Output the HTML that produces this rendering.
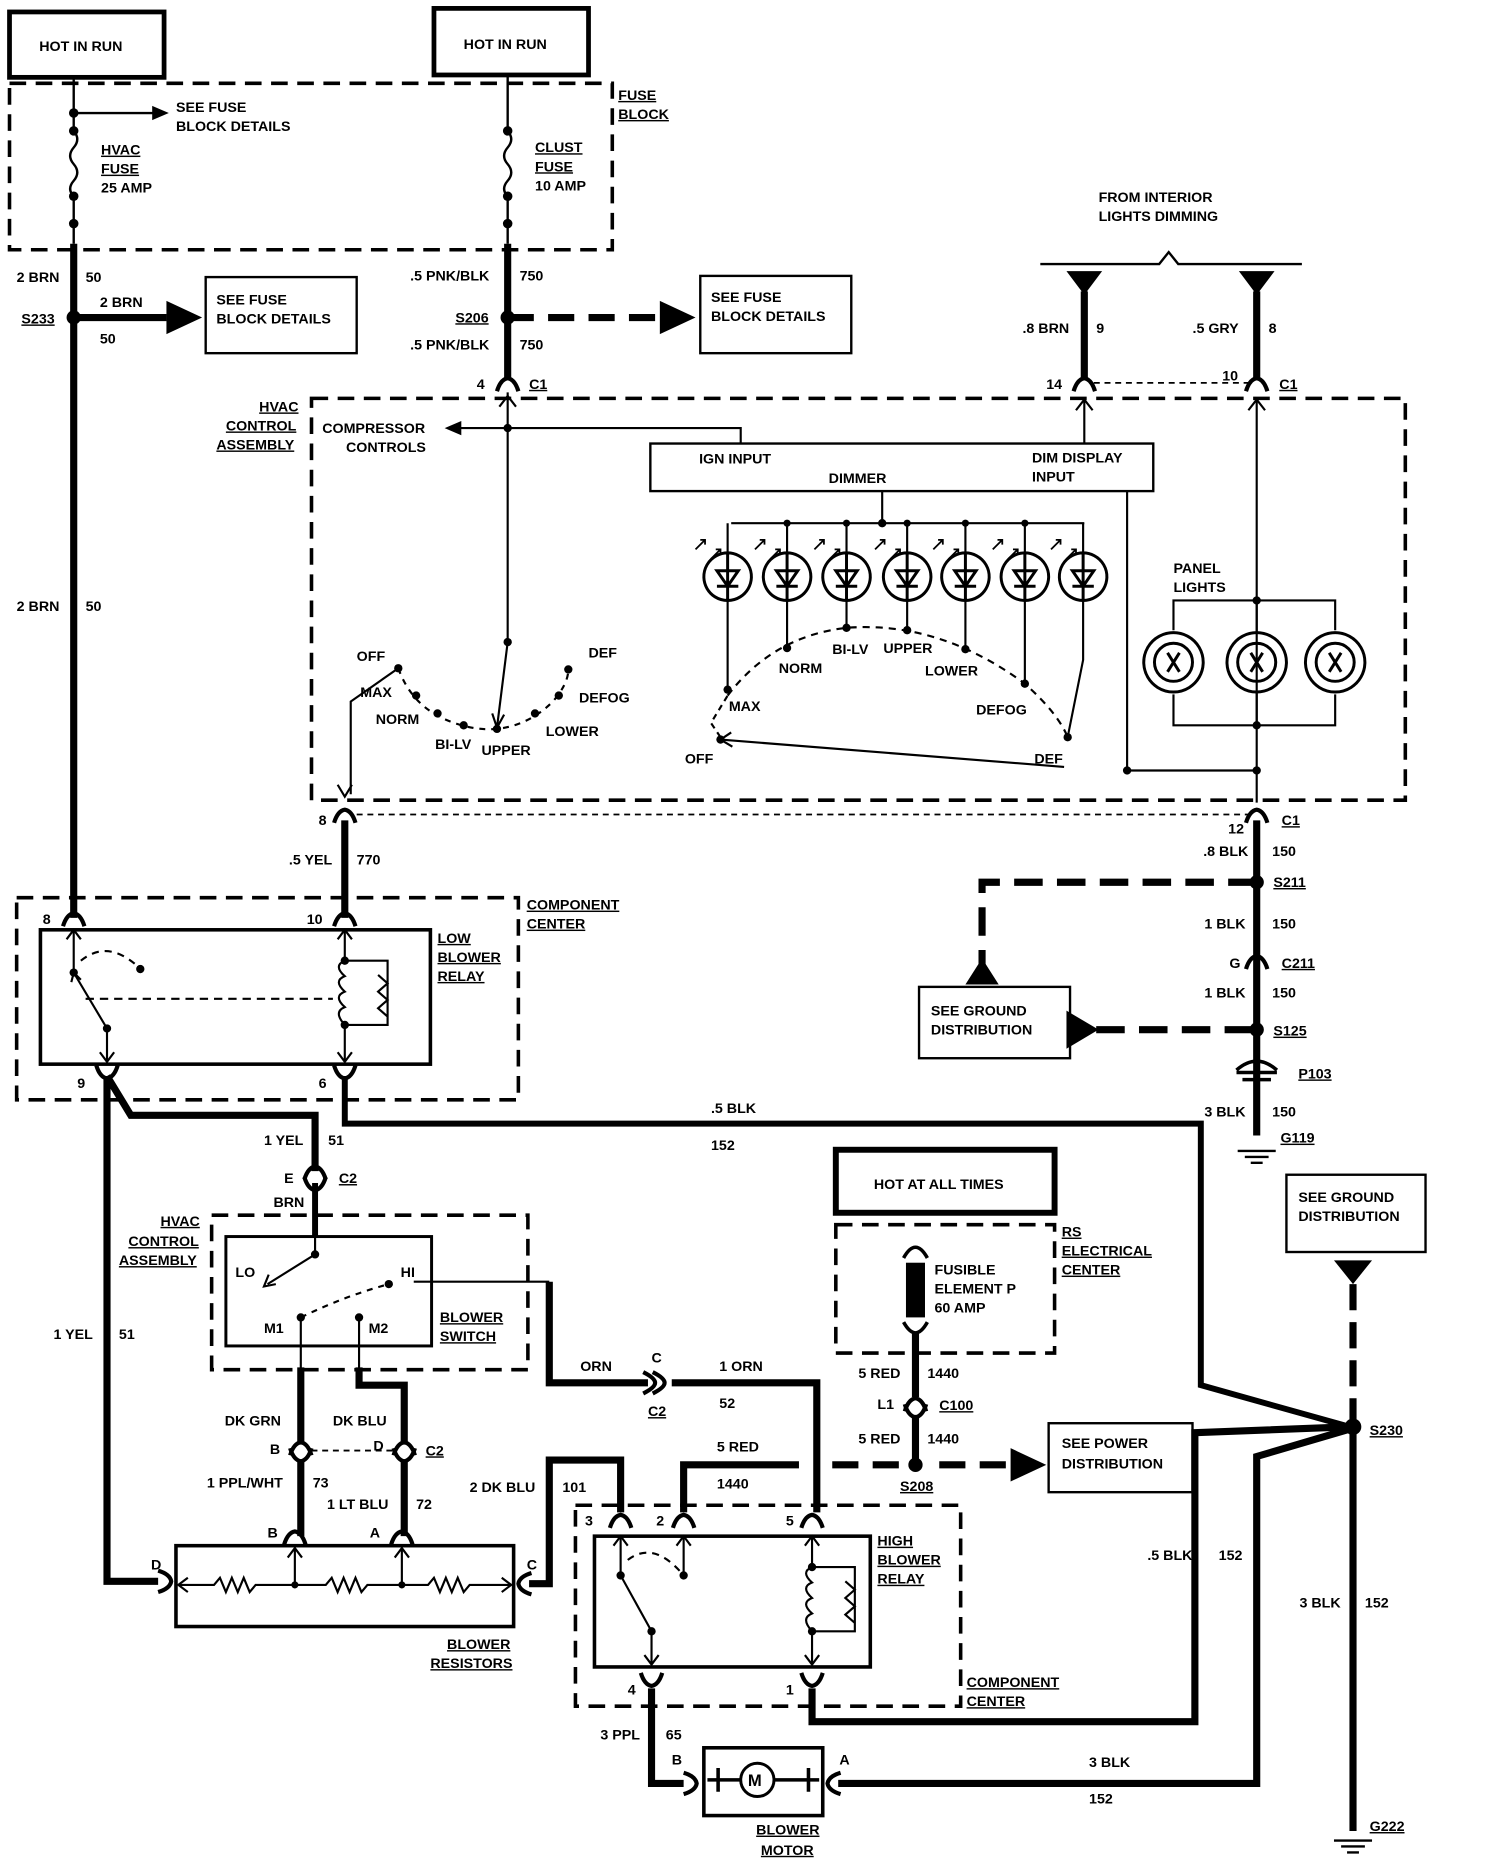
<!DOCTYPE html>
<html><head><meta charset="utf-8"><style>
html,body{margin:0;padding:0;background:#fff;}
svg{display:block;}
text{font-family:"Liberation Sans",sans-serif;font-weight:bold;font-size:12px;fill:#000;}
</style></head><body>
<svg width="1504" height="1862" viewBox="0 0 1265 1566" xmlns="http://www.w3.org/2000/svg">
<defs>
<path id="ct" d="M-9,7 Q-6,-3 0,-4 Q6,-3 9,7" fill="none" stroke="#000" stroke-width="3.5"/>
<path id="cb" d="M-9,-7 Q-6,3 0,4 Q6,3 9,-7" fill="none" stroke="#000" stroke-width="3.5"/>
<path id="cs" d="M-6,-9 Q4,-4 4,0 Q4,4 -6,9 M-14,-9 Q-4,-4 -4,0 Q-4,4 -14,9" fill="none" stroke="#000" stroke-width="3.5"/>
<path id="led" d="M0,-20 A20,20 0 1,0 0.01,-20 M-9,-5 L9,-5 L0,8 Z M-9,8 L9,8 M0,-20 L0,20" fill="none" stroke="#000" stroke-width="2.5"/>
<path id="lamp" d="M0,-25 A25,25 0 1,0 0.01,-25 M0,0 m-16,0 a16,16 0 1,0 32,0 a16,16 0 1,0 -32,0 M-5,-8 L5,8 M5,-8 L-5,8" fill="none" stroke="#000" stroke-width="2.5"/>
<path id="gnd" d="M-16,0 L16,0 M-10,5 L10,5 M-5,10 L5,10" stroke="#000" stroke-width="2"/>
</defs>
<g fill="none" stroke="#000">
<rect x="8" y="10" width="130" height="55" stroke-width="4"/>
<rect x="365" y="7" width="130" height="56" stroke-width="4"/>
<rect x="8" y="70" width="507" height="140" stroke-width="3" stroke-dasharray="14,8"/>
<path d="M62,65 V110 M62,165 V205" stroke-width="2"/>
<path d="M62,110 q6,7 0,14 q-6,7 0,14 q6,7 0,14 q-6,7 0,13" stroke-width="2"/>
<path d="M62,95 H130" stroke-width="2"/>
<path d="M62,205 V772" stroke-width="6"/>
<path d="M427,63 V110 M427,165 V205" stroke-width="2"/>
<path d="M427,110 q6,7 0,14 q-6,7 0,14 q6,7 0,14 q-6,7 0,13" stroke-width="2"/>
<path d="M427,205 V318" stroke-width="6"/>
<path d="M62,267 H140" stroke-width="6"/>
<path d="M427,267 H555" stroke-width="6" stroke-dasharray="22,12"/>
<rect x="173" y="233" width="127" height="64" stroke-width="2"/>
<rect x="589" y="232" width="127" height="65" stroke-width="2"/>
<path d="M875,222 H975 L983,212 L991,222 H1095" stroke-width="2"/>
<path d="M912,245 V318 M1057,245 V318" stroke-width="6"/>
<path d="M920,322 H1050" stroke-width="1.5" stroke-dasharray="5,4"/>
<rect x="262" y="335" width="920" height="338" stroke-width="3" stroke-dasharray="14,8"/>
<path d="M427,330 V540 M427,360 H380 M427,360 H623 V373 M912,335 V373 M1057,335 V675" stroke-width="1.8"/>
<path d="M420,342 L427,333 L434,342 M905,345 L912,336 L919,345 M1050,345 L1057,336 L1064,345" stroke-width="1.8"/>
<rect x="547" y="373" width="423" height="40" stroke-width="2"/>
<path d="M742,413 V440 M615,440 H912" stroke-width="1.8"/>
<path d="M612,440 V465 M662,440 V465 M712,440 V465 M763,440 V465 M812,440 V465 M862,440 V465 M911,440 V465" stroke-width="1.8"/>
<path d="M612,505 V580 M662,505 V545 M712,505 V528 M763,505 V530 M812,505 V546 M862,505 V575 M911,505 V555 L898,620" stroke-width="1.8"/>
<path d="M612,585 Q650,535 712,528 Q790,522 862,575 Q890,600 898,620" stroke-width="1.8" stroke-dasharray="6,5"/>
<path d="M606,620 L598,608 L612,585" stroke-width="1.8" stroke-dasharray="5,4"/>
<path d="M606,622 L895,645" stroke-width="1.8"/>
<path d="M615,616 L606,622 L616,628" stroke-width="1.8"/>
<path d="M948,413 V648 H1057" stroke-width="1.8"/>
<path d="M987,530 V505 H1123 V530 M987,584 V610 H1123 V584 M1057,505 V532 M1057,582 V610" stroke-width="1.8"/>
<path d="M335,562 Q345,590 370,603 Q395,615 418,613 Q445,610 465,590 Q478,575 478,563" stroke-width="1.8" stroke-dasharray="5,5"/>
<path d="M418,612 L427,540 M335,562 L295,590 V668" stroke-width="1.8"/>
<path d="M414,600 L418,612 L424,601 M284,660 L290,670 L296,660" stroke-width="1.8"/>
<path d="M300,685 H1050" stroke-width="1.5" stroke-dasharray="5,4"/>
<path d="M290,690 V772" stroke-width="6"/>
<path d="M1057,690 V955" stroke-width="6"/>
<path d="M1057,742 H826 V812" stroke-width="6" stroke-dasharray="24,12"/>
<rect x="773" y="830" width="127" height="60" stroke-width="2"/>
<path d="M922,866 H1057" stroke-width="6" stroke-dasharray="24,12"/>
<rect x="14" y="755" width="422" height="170" stroke-width="3" stroke-dasharray="14,8"/>
<rect x="34" y="782" width="328" height="113" stroke-width="3"/>
<path d="M62,782 V818 L90,865 V893 M290,782 V808 M290,862 V893" stroke-width="1.8"/>
<path d="M56,790 L62,782 L68,790 M84,885 L90,893 L96,885 M284,790 L290,782 L296,790 M284,885 L290,893 L296,885 M60,826 L62,818 L68,824" stroke-width="1.8"/>
<path d="M68,808 Q90,790 115,812" stroke-width="1.8" stroke-dasharray="6,5"/>
<path d="M72,840 H280" stroke-width="1.8" stroke-dasharray="7,5"/>
<path d="M290,808 h36 v54 h-36 M290,808 q-10,4 0,13 q-10,4 0,13 q-10,4 0,13 q-10,4 0,15 M318,820 l8,7 l-8,7 l8,7 l-8,7 l8,7" stroke-width="1.8"/>
<path d="M290,905 V945 H1010 V1165 L1135,1200" stroke-width="5"/>
<path d="M90,905 L110,938 H265 V985 M90,905 V1330 H133" stroke-width="6"/>
<path d="M265,995 V1040" stroke-width="5"/>
<rect x="178" y="1022" width="266" height="130" stroke-width="3" stroke-dasharray="14,8"/>
<rect x="190" y="1040" width="173" height="92" stroke-width="2.5"/>
<path d="M265,1040 V1055 L225,1080 M253,1108 V1155 M302,1108 V1155 M348,1078 H462" stroke-width="1.8"/>
<path d="M226,1072 L222,1082 L232,1080" stroke-width="1.8"/>
<path d="M253,1108 Q290,1090 327,1080" stroke-width="1.8" stroke-dasharray="5,5"/>
<path d="M462,1078 V1163 H545 M565,1163 H687 V1272" stroke-width="6"/>
<path d="M253,1150 V1215 M302,1150 V1165 H340 V1215" stroke-width="6"/>
<path d="M262,1220 H333" stroke-width="1.5" stroke-dasharray="5,4"/>
<path d="M253,1228 V1292 M340,1228 V1292" stroke-width="6"/>
<rect x="148" y="1300" width="284" height="68" stroke-width="3"/>
<path d="M150,1333 H180 l5,-6 l5,12 l5,-12 l5,12 l5,-12 l5,12 l5,-6 H274 l5,-6 l5,12 l5,-12 l5,12 l5,-12 l5,12 l5,-6 H360 l5,-6 l5,12 l5,-12 l5,12 l5,-12 l5,12 l5,-6 H430 M248,1302 V1333 M338,1302 V1333" stroke-width="1.8"/>
<path d="M158,1327 L150,1333 L158,1339 M422,1327 L430,1333 L422,1339 M242,1310 L248,1302 L254,1310 M332,1310 L338,1302 L344,1310" stroke-width="1.8"/>
<path d="M445,1332 H462 V1228 H522 V1272" stroke-width="6"/>
<rect x="484" y="1266" width="324" height="169" stroke-width="3" stroke-dasharray="14,8"/>
<rect x="500" y="1292" width="232" height="110" stroke-width="3"/>
<path d="M522,1292 V1325 L548,1372 V1400 M575,1292 V1325 M683,1292 V1318 M683,1372 V1400" stroke-width="1.8"/>
<path d="M516,1300 L522,1292 L528,1300 M569,1300 L575,1292 L581,1300 M677,1300 L683,1292 L689,1300 M542,1392 L548,1400 L554,1392 M677,1392 L683,1400 L689,1392" stroke-width="1.8"/>
<path d="M528,1312 Q550,1295 575,1325" stroke-width="1.8" stroke-dasharray="6,5"/>
<path d="M683,1318 h36 v54 h-36 M683,1318 q-10,4 0,13 q-10,4 0,13 q-10,4 0,13 q-10,4 0,15 M711,1330 l8,7 l-8,7 l8,7 l-8,7 l8,7" stroke-width="1.8"/>
<path d="M575,1272 V1232 H672" stroke-width="6"/>
<path d="M700,1232 H770" stroke-width="6" stroke-dasharray="22,12"/>
<path d="M790,1232 H850" stroke-width="6" stroke-dasharray="22,12"/>
<rect x="882" y="1197" width="121" height="58" stroke-width="2"/>
<rect x="703" y="967" width="184" height="53" stroke-width="5"/>
<rect x="703" y="1030" width="184" height="108" stroke-width="3" stroke-dasharray="14,8"/>
<path d="M770,1120 V1175 M770,1190 V1232" stroke-width="6"/>
<path d="M760,1058 Q770,1040 780,1058 M760,1112 Q770,1130 780,1112" stroke-width="3"/>
<path d="M548,1420 V1500 H575 M705,1500 H1057 V1225 L1135,1202 M683,1420 V1448 H1005 V1205 L1135,1200" stroke-width="6"/>
<rect x="592" y="1470" width="100" height="57" stroke-width="3"/>
<circle cx="637" cy="1497" r="14" stroke-width="2.5"/>
<path d="M595,1497 H623 M651,1497 H689 M604,1487 V1507 M680,1487 V1507" stroke-width="3"/>
<rect x="1082" y="988" width="117" height="65" stroke-width="2"/>
<path d="M1138,1080 V1195" stroke-width="6" stroke-dasharray="22,10"/>
<path d="M1138,1205 V1540" stroke-width="6"/>
<path d="M1040,900 Q1057,885 1074,900 M1040,902 H1074 M1045,908 H1069" stroke-width="3"/>
</g>
<g fill="#000">
<circle cx="62" cy="95" r="4"/><circle cx="62" cy="110" r="4"/><circle cx="62" cy="165" r="4"/><circle cx="62" cy="188" r="4"/>
<circle cx="427" cy="110" r="4"/><circle cx="427" cy="165" r="4"/><circle cx="427" cy="188" r="4"/>
<circle cx="62" cy="267" r="6"/><circle cx="427" cy="267" r="6"/>
<polygon points="128,89 142,95 128,101"/>
<polygon points="140,253 170,267 140,281"/>
<polygon points="555,253 585,267 555,281"/>
<polygon points="897,228 927,228 912,248"/>
<polygon points="1042,228 1072,228 1057,248"/>
<polygon points="388,354 374,360 388,366"/>
<circle cx="427" cy="360" r="3.5"/><circle cx="742" cy="440" r="3.5"/>
<circle cx="662" cy="440" r="3"/><circle cx="712" cy="440" r="3"/><circle cx="763" cy="440" r="3"/><circle cx="812" cy="440" r="3"/><circle cx="862" cy="440" r="3"/>
<circle cx="612" cy="580" r="3.5"/><circle cx="662" cy="545" r="3.5"/><circle cx="712" cy="528" r="3.5"/><circle cx="763" cy="530" r="3.5"/><circle cx="812" cy="546" r="3.5"/><circle cx="862" cy="575" r="3.5"/><circle cx="898" cy="620" r="3.5"/><circle cx="606" cy="622" r="3.5"/>
<circle cx="948" cy="648" r="3.5"/><circle cx="1057" cy="648" r="3.5"/><circle cx="1057" cy="505" r="3.5"/><circle cx="1057" cy="610" r="3.5"/>
<circle cx="335" cy="562" r="3.5"/><circle cx="350" cy="585" r="3.5"/><circle cx="368" cy="600" r="3.5"/><circle cx="390" cy="610" r="3.5"/><circle cx="418" cy="613" r="3.5"/><circle cx="450" cy="600" r="3.5"/><circle cx="470" cy="585" r="3.5"/><circle cx="478" cy="563" r="3.5"/><circle cx="427" cy="540" r="3.5"/>
<circle cx="1057" cy="742" r="6"/><circle cx="1057" cy="866" r="6"/>
<polygon points="812,828 840,828 826,806"/>
<polygon points="897,850 897,882 924,866"/>
<circle cx="62" cy="818" r="3.5"/><circle cx="90" cy="865" r="3.5"/><circle cx="118" cy="815" r="3.5"/><circle cx="290" cy="808" r="3.5"/><circle cx="290" cy="862" r="3.5"/>
<circle cx="265" cy="1055" r="3.5"/><circle cx="253" cy="1108" r="3.5"/><circle cx="302" cy="1108" r="3.5"/><circle cx="327" cy="1080" r="3.5"/>
<circle cx="248" cy="1333" r="3"/><circle cx="338" cy="1333" r="3"/>
<circle cx="522" cy="1325" r="3.5"/><circle cx="548" cy="1372" r="3.5"/><circle cx="575" cy="1325" r="3.5"/><circle cx="683" cy="1318" r="3.5"/><circle cx="683" cy="1372" r="3.5"/>
<circle cx="770" cy="1232" r="6"/>
<polygon points="850,1218 880,1232 850,1246"/>
<rect x="762" y="1062" width="16" height="46"/>
<polygon points="1122,1060 1154,1060 1138,1080"/>
<circle cx="1138" cy="1200" r="7"/>
</g>
<use href="#ct" x="427" y="322"/><use href="#ct" x="912" y="322"/><use href="#ct" x="1057" y="322"/>
<use href="#ct" x="290" y="685"/><use href="#ct" x="1057" y="685"/>
<use href="#ct" x="1057" y="808"/>
<use href="#ct" x="62" y="772"/><use href="#ct" x="290" y="772"/>
<use href="#cb" x="90" y="903"/><use href="#cb" x="290" y="903"/>
<use href="#ct" x="265" y="985"/><use href="#cb" x="265" y="997"/>
<use href="#ct" x="253" y="1217"/><use href="#ct" x="340" y="1217"/><use href="#cb" x="253" y="1225"/><use href="#cb" x="340" y="1225"/>
<use href="#ct" x="248" y="1292"/><use href="#ct" x="338" y="1292"/>
<use href="#cs" x="555" y="1163"/>
<use href="#ct" x="522" y="1278"/><use href="#ct" x="575" y="1278"/><use href="#ct" x="683" y="1278"/>
<use href="#cb" x="548" y="1414"/><use href="#cb" x="683" y="1414"/>
<use href="#ct" x="770" y="1180"/><use href="#cb" x="770" y="1188"/>
<g transform="translate(140,1330) rotate(90)"><use href="#ct"/></g>
<g transform="translate(440,1332) rotate(-90)"><use href="#ct"/></g>
<g transform="translate(582,1500) rotate(90)"><use href="#ct"/></g>
<g transform="translate(700,1500) rotate(-90)"><use href="#ct"/></g>
<use href="#led" x="612" y="485"/><use href="#led" x="662" y="485"/><use href="#led" x="712" y="485"/><use href="#led" x="763" y="485"/><use href="#led" x="812" y="485"/><use href="#led" x="862" y="485"/><use href="#led" x="911" y="485"/>
<use href="#lamp" x="987" y="557"/><use href="#lamp" x="1057" y="557"/><use href="#lamp" x="1123" y="557"/>
<use href="#gnd" x="1057" y="968"/><use href="#gnd" x="1138" y="1548"/>
<g stroke="#000" stroke-width="1.5" fill="none">
<path d="M585,462 l8,-8 m-4,0 h4 v4 M598,470 l8,-8 m-4,0 h4 v4"/>
<path d="M635,462 l8,-8 m-4,0 h4 v4 M648,470 l8,-8 m-4,0 h4 v4"/>
<path d="M685,462 l8,-8 m-4,0 h4 v4 M698,470 l8,-8 m-4,0 h4 v4"/>
<path d="M736,462 l8,-8 m-4,0 h4 v4 M749,470 l8,-8 m-4,0 h4 v4"/>
<path d="M785,462 l8,-8 m-4,0 h4 v4 M798,470 l8,-8 m-4,0 h4 v4"/>
<path d="M835,462 l8,-8 m-4,0 h4 v4 M848,470 l8,-8 m-4,0 h4 v4"/>
<path d="M884,462 l8,-8 m-4,0 h4 v4 M897,470 l8,-8 m-4,0 h4 v4"/>
</g>
<g>
<text x="33" y="43">HOT IN RUN</text><text x="390" y="41">HOT IN RUN</text>
<text x="520" y="84" text-decoration="underline">FUSE</text><text x="520" y="100" text-decoration="underline">BLOCK</text>
<text x="148" y="94">SEE FUSE</text><text x="148" y="110">BLOCK DETAILS</text>
<text x="85" y="130" text-decoration="underline">HVAC</text><text x="85" y="146" text-decoration="underline">FUSE</text><text x="85" y="162">25 AMP</text>
<text x="450" y="128" text-decoration="underline">CLUST</text><text x="450" y="144" text-decoration="underline">FUSE</text><text x="450" y="160">10 AMP</text>
<text x="14" y="237">2 BRN</text><text x="72" y="237">50</text>
<text x="18" y="272" text-decoration="underline">S233</text>
<text x="84" y="258">2 BRN</text><text x="84" y="289">50</text>
<text x="182" y="256">SEE FUSE</text><text x="182" y="272">BLOCK DETAILS</text>
<text x="345" y="236">.5 PNK/BLK</text><text x="437" y="236">750</text>
<text x="383" y="271" text-decoration="underline">S206</text>
<text x="345" y="294">.5 PNK/BLK</text><text x="437" y="294">750</text>
<text x="598" y="254">SEE FUSE</text><text x="598" y="270">BLOCK DETAILS</text>
<text x="924" y="170">FROM INTERIOR</text><text x="924" y="186">LIGHTS DIMMING</text>
<text x="860" y="280">.8 BRN</text><text x="922" y="280">9</text>
<text x="1003" y="280">.5 GRY</text><text x="1067" y="280">8</text>
<text x="401" y="327">4</text><text x="445" y="327" text-decoration="underline">C1</text>
<text x="880" y="327">14</text><text x="1028" y="320">10</text><text x="1076" y="327" text-decoration="underline">C1</text>
<text x="218" y="346" text-decoration="underline">HVAC</text><text x="190" y="362" text-decoration="underline">CONTROL</text><text x="182" y="378" text-decoration="underline">ASSEMBLY</text>
<text x="271" y="364">COMPRESSOR</text><text x="291" y="380">CONTROLS</text>
<text x="588" y="390">IGN INPUT</text><text x="697" y="406">DIMMER</text><text x="868" y="389">DIM DISPLAY</text><text x="868" y="405">INPUT</text>
<text x="987" y="482">PANEL</text><text x="987" y="498">LIGHTS</text>
<text x="300" y="556">OFF</text><text x="303" y="586">MAX</text><text x="316" y="609">NORM</text><text x="366" y="630">BI-LV</text><text x="405" y="635">UPPER</text><text x="459" y="619">LOWER</text><text x="487" y="591">DEFOG</text><text x="495" y="553">DEF</text>
<text x="613" y="598">MAX</text><text x="655" y="566">NORM</text><text x="700" y="550">BI-LV</text><text x="743" y="549">UPPER</text><text x="778" y="568">LOWER</text><text x="821" y="601">DEFOG</text><text x="870" y="642">DEF</text><text x="576" y="642">OFF</text>
<text x="268" y="694">8</text><text x="1033" y="701">12</text><text x="1078" y="694" text-decoration="underline">C1</text>
<text x="243" y="727">.5 YEL</text><text x="300" y="727">770</text>
<text x="1012" y="720">.8 BLK</text><text x="1070" y="720">150</text>
<text x="1071" y="746" text-decoration="underline">S211</text>
<text x="1013" y="781">1 BLK</text><text x="1070" y="781">150</text>
<text x="1034" y="814">G</text><text x="1078" y="814" text-decoration="underline">C211</text>
<text x="1013" y="839">1 BLK</text><text x="1070" y="839">150</text>
<text x="1071" y="871" text-decoration="underline">S125</text>
<text x="1092" y="907" text-decoration="underline">P103</text>
<text x="1013" y="939">3 BLK</text><text x="1070" y="939">150</text>
<text x="1077" y="961" text-decoration="underline">G119</text>
<text x="783" y="854">SEE GROUND</text><text x="783" y="870">DISTRIBUTION</text>
<text x="443" y="765" text-decoration="underline">COMPONENT</text><text x="443" y="781" text-decoration="underline">CENTER</text>
<text x="36" y="777">8</text><text x="258" y="777">10</text>
<text x="368" y="793" text-decoration="underline">LOW</text><text x="368" y="809" text-decoration="underline">BLOWER</text><text x="368" y="825" text-decoration="underline">RELAY</text>
<text x="65" y="915">9</text><text x="268" y="915">6</text>
<text x="598" y="936">.5 BLK</text><text x="598" y="967">152</text>
<text x="222" y="963">1 YEL</text><text x="276" y="963">51</text>
<text x="239" y="995">E</text><text x="285" y="995" text-decoration="underline">C2</text>
<text x="230" y="1015">BRN</text>
<text x="135" y="1031" text-decoration="underline">HVAC</text><text x="108" y="1048" text-decoration="underline">CONTROL</text><text x="100" y="1064" text-decoration="underline">ASSEMBLY</text>
<text x="198" y="1074">LO</text><text x="337" y="1074">HI</text><text x="222" y="1121">M1</text><text x="310" y="1121">M2</text>
<text x="370" y="1112" text-decoration="underline">BLOWER</text><text x="370" y="1128" text-decoration="underline">SWITCH</text>
<text x="45" y="1126">1 YEL</text><text x="100" y="1126">51</text>
<text x="488" y="1153">ORN</text><text x="548" y="1146">C</text><text x="545" y="1191" text-decoration="underline">C2</text>
<text x="605" y="1153">1 ORN</text><text x="605" y="1184">52</text>
<text x="189" y="1199">DK GRN</text><text x="280" y="1199">DK BLU</text>
<text x="227" y="1223">B</text><text x="314" y="1220">D</text><text x="358" y="1224" text-decoration="underline">C2</text>
<text x="174" y="1251">1 PPL/WHT</text><text x="263" y="1251">73</text>
<text x="275" y="1269">1 LT BLU</text><text x="350" y="1269">72</text>
<text x="225" y="1293">B</text><text x="311" y="1293">A</text>
<text x="127" y="1320">D</text><text x="443" y="1320">C</text>
<text x="376" y="1387" text-decoration="underline">BLOWER</text><text x="362" y="1403" text-decoration="underline">RESISTORS</text>
<text x="395" y="1255">2 DK BLU</text><text x="473" y="1255">101</text>
<text x="603" y="1221">5 RED</text><text x="603" y="1252">1440</text>
<text x="492" y="1283">3</text><text x="552" y="1283">2</text><text x="661" y="1283">5</text>
<text x="528" y="1425">4</text><text x="661" y="1425">1</text>
<text x="738" y="1300" text-decoration="underline">HIGH</text><text x="738" y="1316" text-decoration="underline">BLOWER</text><text x="738" y="1332" text-decoration="underline">RELAY</text>
<text x="813" y="1419" text-decoration="underline">COMPONENT</text><text x="813" y="1435" text-decoration="underline">CENTER</text>
<text x="735" y="1000">HOT AT ALL TIMES</text>
<text x="893" y="1040" text-decoration="underline">RS</text><text x="893" y="1056" text-decoration="underline">ELECTRICAL</text><text x="893" y="1072" text-decoration="underline">CENTER</text>
<text x="786" y="1072">FUSIBLE</text><text x="786" y="1088">ELEMENT P</text><text x="786" y="1104">60 AMP</text>
<text x="722" y="1159">5 RED</text><text x="780" y="1159">1440</text>
<text x="738" y="1185">L1</text><text x="790" y="1186" text-decoration="underline">C100</text>
<text x="722" y="1214">5 RED</text><text x="780" y="1214">1440</text>
<text x="757" y="1254" text-decoration="underline">S208</text>
<text x="893" y="1218">SEE POWER</text><text x="893" y="1235">DISTRIBUTION</text>
<text x="1092" y="1011">SEE GROUND</text><text x="1092" y="1027">DISTRIBUTION</text>
<text x="1152" y="1207" text-decoration="underline">S230</text>
<text x="965" y="1312">.5 BLK</text><text x="1025" y="1312">152</text>
<text x="1093" y="1352">3 BLK</text><text x="1148" y="1352">152</text>
<text x="505" y="1463">3 PPL</text><text x="560" y="1463">65</text>
<text x="565" y="1484">B</text><text x="706" y="1484">A</text>
<text x="629" y="1502" style="font-size:14px">M</text>
<text x="916" y="1486">3 BLK</text><text x="916" y="1517">152</text>
<text x="636" y="1543" text-decoration="underline">BLOWER</text><text x="640" y="1560" text-decoration="underline">MOTOR</text>
<text x="1152" y="1540" text-decoration="underline">G222</text>
<text x="14" y="514">2 BRN</text><text x="72" y="514">50</text>
</g>
</svg>
</body></html>
